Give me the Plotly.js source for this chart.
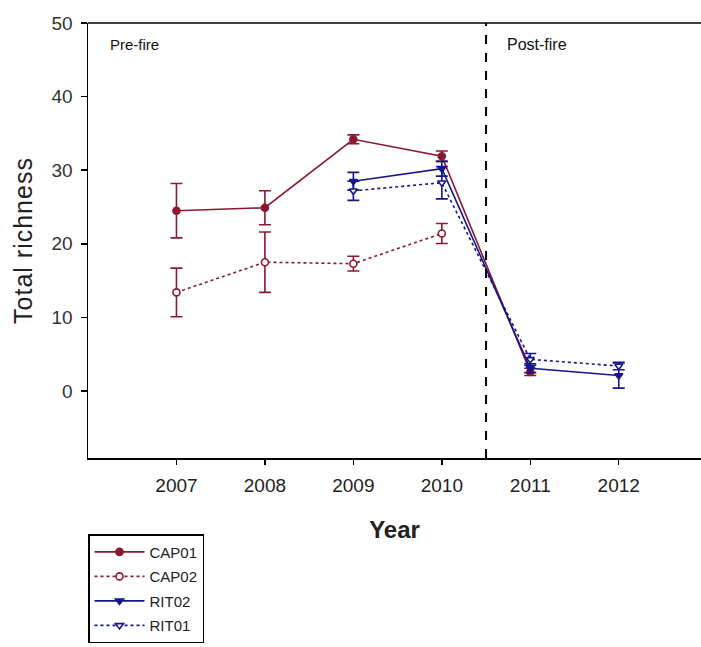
<!DOCTYPE html>
<html>
<head>
<meta charset="utf-8">
<script src="https://cdn.plot.ly/plotly-3.0.1.min.js"></script>
<style>html,body{margin:0;padding:0;background:#fff;}#chart{width:701px;height:647px;}
.ytitle{letter-spacing:1px;}</style>
</head>
<body>
<div id="chart"></div>
<script>
// Data
var years = [2007, 2008, 2009, 2010, 2011, 2012];
var tickLabels = ['2007', '2008', '2009', '2010', '2011', '2012'];

var cap01X = [2007, 2008, 2009, 2010, 2011];
var cap01Y = [24.5, 24.9, 34.2, 31.9, 2.6];
var cap01Err = [3.7, 2.3, 0.6, 0.7, 0.5];

var cap02X = [2007, 2008, 2009, 2010];
var cap02Y = [13.4, 17.5, 17.3, 21.4];
var cap02Err = [3.3, 4.1, 1.0, 1.35];

var rit02X = [2009, 2010, 2011, 2012];
var rit02Y = [28.5, 30.2, 3.1, 2.1];
var rit02Err = [1.2, 1.0, 0.6, 1.7];

var rit01X = [2009, 2010, 2011, 2012];
var rit01Y = [27.2, 28.3, 4.3, 3.4];
var rit01Err = [1.3, 2.2, 0.8, 0.5];

var seriesNames = ['CAP01', 'CAP02', 'RIT02', 'RIT01'];
var periodLabels = ['Pre-fire', 'Post-fire'];
var fireYear = 2010.5;

var red = '#8a1830';
var navy = '#16168a';

function trace(name, x, y, err, color, dash, symbol, fill) {
  return {
    type: 'scatter', mode: 'lines+markers', name: name, legendgroup: name,
    x: x, y: y,
    line: {color: color, width: 1.6, dash: dash},
    marker: {symbol: symbol, size: 7, color: fill, line: {color: color, width: 1.6}},
    error_y: {type: 'data', array: err, visible: true, color: color, thickness: 1.6, width: 6}
  };
}

var data = [
  trace(seriesNames[0], cap01X, cap01Y, cap01Err, red, 'solid', 'circle', red),
  trace(seriesNames[1], cap02X, cap02Y, cap02Err, red, 'dot', 'circle', '#ffffff'),
  trace(seriesNames[2], rit02X, rit02Y, rit02Err, navy, 'solid', 'triangle-down', navy),
  trace(seriesNames[3], rit01X, rit01Y, rit01Err, navy, 'dot', 'triangle-down', '#ffffff')
];

var layout = {
  width: 701, height: 647,
  margin: {l: 88, r: 0, t: 23, b: 189},
  paper_bgcolor: '#ffffff', plot_bgcolor: '#ffffff',
  font: {family: 'Arial, "Liberation Sans", sans-serif', color: '#222'},
  showlegend: true,
  legend: {
    x: 0, xref: 'paper', xanchor: 'left',
    y: -0.175, yref: 'paper', yanchor: 'top',
    bordercolor: '#000', borderwidth: 1.5, bgcolor: '#fff',
    font: {size: 15, color: '#222'},
    tracegroupgap: 2, itemwidth: 50,
    entrywidth: 148, entrywidthmode: 'pixels'
  },
  xaxis: {
    range: [2006, 2012.93], tickmode: 'array', tickvals: years, ticktext: tickLabels,
    showgrid: false, zeroline: false, showline: true, linecolor: '#000', linewidth: 1.5,
    ticks: 'outside', ticklen: 5, tickwidth: 1.5, tickcolor: '#000',
    ticklabelstandoff: 5,
    tickfont: {size: 19, color: '#222'},
    title: {text: '<b>Year</b>', font: {size: 24, color: '#222'}, standoff: 26}
  },
  yaxis: {
    range: [-9.1, 50], tickmode: 'array', tickvals: [0, 10, 20, 30, 40, 50],
    showgrid: false, zeroline: false, showline: true, linecolor: '#000', linewidth: 1.5,
    ticks: 'outside', ticklen: 6, tickwidth: 1.5, tickcolor: '#000',
    ticklabelstandoff: 4,
    tickfont: {size: 19, color: '#333'},
    title: {text: 'Total richness', font: {size: 25, color: '#222'}, standoff: 12}
  },
  shapes: [
    {type: 'line', xref: 'x', yref: 'paper', x0: fireYear, x1: fireYear, y0: 0, y1: 1,
     line: {color: '#000', width: 2, dash: 'dash'}},
    {type: 'line', xref: 'paper', yref: 'paper', x0: 0, x1: 1, y0: 1, y1: 1,
     line: {color: '#000', width: 1.5}}
  ],
  annotations: [
    {xref: 'paper', yref: 'paper', x: 0.033, y: 0.95, xanchor: 'left', yanchor: 'middle',
     text: periodLabels[0], showarrow: false, font: {size: 15, color: '#111'}},
    {xref: 'paper', yref: 'paper', x: 0.68, y: 0.95, xanchor: 'left', yanchor: 'middle',
     text: periodLabels[1], showarrow: false, font: {size: 16, color: '#111'}}
  ]
};

Plotly.newPlot('chart', data, layout, {displayModeBar: false, staticPlot: true});
</script>
</body>
</html>
